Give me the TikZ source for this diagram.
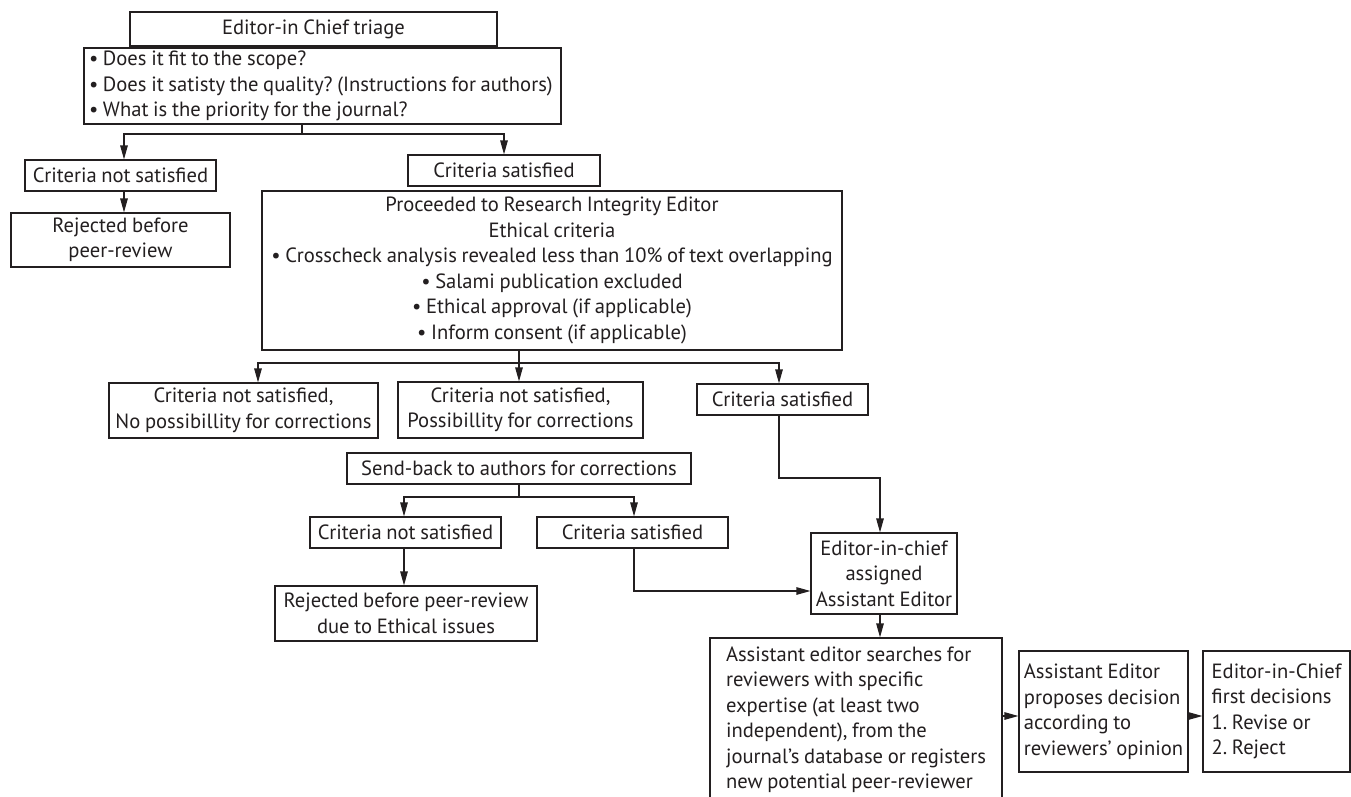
\documentclass[tikz,border=0pt]{standalone}
\usepackage{fontspec}
\setmainfont{PT Sans}[WordSpace=0.85]
\usetikzlibrary{arrows.meta}
\definecolor{ink}{HTML}{231F20}
\newcommand\fs{\fontsize{20.6}{25.5}\selectfont\frenchspacing}
\begin{document}
\begin{tikzpicture}[x=1pt,y=-1pt,
  box/.style={draw=ink, line width=1.2pt, inner sep=0pt, align=center, font=\fs, text=ink},
  lbox/.style={box, align=left},
  conn/.style={draw=ink, line width=1.2pt},
  arr/.style={conn, -{Triangle[length=14pt,width=7.5pt]}}]
\useasboundingbox (0,0) rectangle (1351,797);
\clip (0,0) rectangle (1351,797);
\fill[white] (0,0) rectangle (1351,797);

% top
\node[box, minimum width=367pt, minimum height=34pt] (triage) at (313.5,29) {Editor-in Chief triage};
\node[lbox, minimum width=477pt, minimum height=76pt] (quest) at (322.5,86)
  {• Does it fit to the scope?\\\makebox[467pt][l]{• Does it satisty the quality? (Instructions for authors)}\\• What is the priority for the journal?};
\node[box, minimum width=191pt, minimum height=31pt] (ns1) at (120.5,175.5) {Criteria not satisfied};
\node[box, minimum width=219pt, minimum height=54pt] (rej1) at (120.5,240) {Rejected before\\peer-review};
\node[box, minimum width=192pt, minimum height=31pt] (sat1) at (504,170.5) {Criteria satisfied};
\node[box, minimum width=580pt, minimum height=159pt] (proc) at (552,270.5)
  {Proceeded to Research Integrity Editor\\Ethical criteria\\• Crosscheck analysis revealed less than 10\% of text overlapping\\• Salami publication excluded\\• Ethical approval (if applicable)\\• Inform consent (if applicable)};

% second row
\node[box, minimum width=269pt, minimum height=55pt] (bA) at (243.5,410.5) {Criteria not satisfied,\\No possibillity for corrections};
\node[box, minimum width=245pt, minimum height=56pt] (bB) at (520.5,410) {Criteria not satisfied,\\Possibillity for corrections};
\node[box, minimum width=171pt, minimum height=31pt] (bC) at (782.5,399.5) {Criteria satisfied};

\node[box, minimum width=344pt, minimum height=31pt] (send) at (519,468.5) {Send-back to authors for corrections};
\node[box, minimum width=191pt, minimum height=31pt] (ns2) at (405.5,532.5) {Criteria not satisfied};
\node[box, minimum width=191pt, minimum height=31pt] (sat2) at (632.5,532.5) {Criteria satisfied};
\node[box, minimum width=262pt, minimum height=55pt] (rej2) at (406,613.5) {Rejected before peer-review\\due to Ethical issues};
\node[box, minimum width=146pt, minimum height=81pt] (eic) at (884,573.5) {Editor-in-chief\\assigned\\Assistant Editor};

% bottom row
\node[lbox, minimum width=292pt, minimum height=163pt] (search) at (856,719.5)
  {Assistant editor searches for\\reviewers with specific\\expertise (at least two\\independent), from the\\journal's database or registers\\new potential peer-reviewer};
\node[lbox, minimum width=169pt, minimum height=121pt] (prop) at (1103.5,711.5)
  {Assistant Editor\\proposes decision\\according to\\reviewers' opinion};
\node[lbox, minimum width=147pt, minimum height=121pt] (final) at (1276.5,711.5)
  {Editor-in-Chief\\first decisions\\1. Revise or\\2. Reject};

% connectors: triage
\coordinate (qj) at (302,134);
\coordinate (ql) at (124,134);
\coordinate (qr) at (504,134);
\draw[conn] (quest.south -| qj) -- (qj);
\draw[arr] (qj) -- (ql) -- (ql |- ns1.north);
\draw[arr] (qj) -- (qr) -- (qr |- sat1.north);
\draw[arr] (ns1.south -| ql) -- (rej1.north -| ql);

% connectors: ethics
\coordinate (pj) at (519,363);
\coordinate (pl) at (258,363);
\coordinate (pr) at (779,363);
\draw[conn] (proc.south -| pj) -- (pj);
\draw[arr] (pj) -- (pl) -- (pl |- bA.north);
\draw[arr] (pj) -- (pj |- bB.north);
\draw[arr] (pj) -- (pr) -- (pr |- bC.north);

% connectors: send-back
\coordinate (sj) at (519,497);
\coordinate (sl) at (404,497);
\coordinate (sr) at (634,497);
\draw[conn] (send.south -| sj) -- (sj);
\draw[arr] (sj) -- (sl) -- (sl |- ns2.north);
\draw[arr] (sj) -- (sr) -- (sr |- sat2.north);
\draw[arr] (ns2.south -| sl) -- (rej2.north -| sl);
\path (eic.west) ++(0,17.5) coordinate (ea);
\draw[arr] (sat2.south -| sr) |- (ea);

% connectors: to assistant editor
\coordinate (cm) at (880,478);
\draw[arr] (bC.south -| pr) |- (cm) -- (cm |- eic.north);
\draw[arr] (eic.south -| cm) -- (search.north -| cm);
\coordinate (hy) at (1000,716);
\draw[arr] (search.east |- hy) -- (prop.west |- hy);
\draw[arr] (prop.east |- hy) -- (final.west |- hy);
\end{tikzpicture}
\end{document}
